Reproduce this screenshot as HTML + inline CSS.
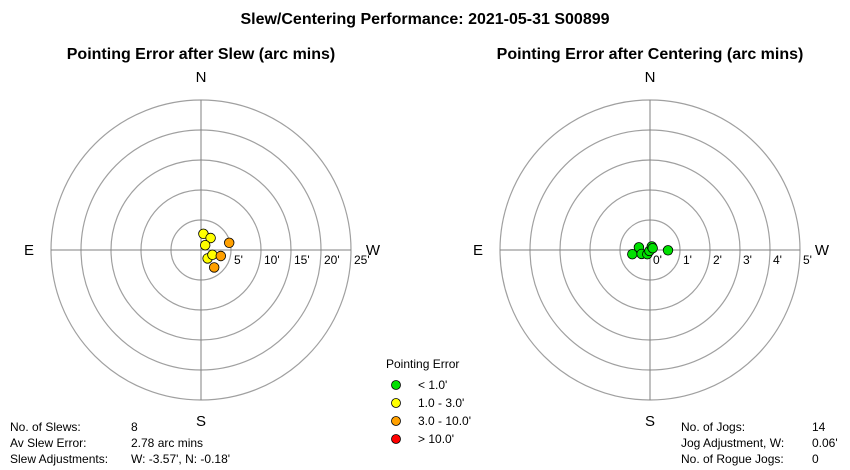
<!DOCTYPE html>
<html><head><meta charset="utf-8">
<style>
body{margin:0;background:#fff;font-family:"Liberation Sans",Arial,sans-serif;}
svg{display:block}
</style></head>
<body>
<svg id="chart" width="850" height="470" viewBox="0 0 850 470" xmlns="http://www.w3.org/2000/svg" font-family="Liberation Sans, Arial, sans-serif">
<rect width="850" height="470" fill="#fff"/>
<text x="425" y="24" text-anchor="middle" font-size="16" font-weight="bold">Slew/Centering Performance: 2021-05-31 S00899</text>
<text x="201" y="59" text-anchor="middle" font-size="16" font-weight="bold">Pointing Error after Slew (arc mins)</text>
<text x="650" y="59" text-anchor="middle" font-size="16" font-weight="bold">Pointing Error after Centering (arc mins)</text>
<g id="left"></g><g id="right"></g>
<g>
<text x="386" y="368" font-size="12">Pointing Error</text>
<g id="legend"></g>
</g>
<g font-size="12">
<text x="10" y="431">No. of Slews:</text><text x="131" y="431">8</text>
<text x="10" y="447">Av Slew Error:</text><text x="131" y="447">2.78 arc mins</text>
<text x="10" y="463">Slew Adjustments:</text><text x="131" y="463">W: -3.57', N: -0.18'</text>
</g>
<g font-size="12">
<text x="681" y="431">No. of Jogs:</text><text x="812" y="431">14</text>
<text x="681" y="447">Jog Adjustment, W:</text><text x="812" y="447">0.06'</text>
<text x="681" y="463">No. of Rogue Jogs:</text><text x="812" y="463">0</text>
</g>
</svg>
<script>
const slewW=[0.4,1.6,0.7,4.7,1.1,1.9,3.3,2.2];
const slewN=[2.7,2.0,0.8,1.2,-1.4,-0.8,-1.0,-2.9];
const jogW=[-0.59,-0.37,-0.28,-0.09,-0.02,0.06,0.09,0.6];
const jogN=[-0.14,0.09,-0.13,-0.14,-0.03,0.12,0.06,-0.01];
const leftTicks=["5'","10'","15'","20'","25'"];
const rightTicks=["0'","1'","2'","3'","4'","5'"];
const legendLabels=["< 1.0'","1.0 - 3.0'","3.0 - 10.0'","> 10.0'"];
const legendColors=["#00e000","#ffff00","#ffa000","#ff0000"];
const NS="http://www.w3.org/2000/svg";
function mk(tag,attrs,parent){const e=document.createElementNS(NS,tag);for(const k in attrs)e.setAttribute(k,attrs[k]);parent.appendChild(e);return e;}
function colorFor(err){return err<1?legendColors[0]:err<3?legendColors[1]:err<10?legendColors[2]:legendColors[3];}
function polar(g,cx,cy,perUnit,ticks,tickStartIdx,ws,ns,name){
  for(let i=1;i<=5;i++){const c=mk('circle',{cx:cx,cy:cy,r:i*30,fill:'none',stroke:'#a0a0a0','stroke-width':1.2},g);
    
    }
  const l1=mk('line',{x1:cx-150,y1:cy,x2:cx+150,y2:cy,stroke:'#808080'},g);
  
  
  const l2=mk('line',{x1:cx,y1:cy-150,x2:cx,y2:cy+150,stroke:'#808080'},g);
  
  
  [['N',cx,cy-168],['S',cx,cy+176],['E',cx-172,cy+5],['W',cx+172,cy+5]].forEach(d=>{
    const t=mk('text',{x:d[1],y:d[2],'text-anchor':'middle','font-size':15},g);t.textContent=d[0];
    
    });
  ticks.forEach((lab,i)=>{const t=mk('text',{x:cx+(i+tickStartIdx)*30+3,y:cy+14,'font-size':12},g);t.textContent=lab;
    
    });
  ws.forEach((w,i)=>{const n=ns[i];const err=Math.sqrt(w*w+n*n);
    const c=mk('circle',{cx:cx+w*perUnit,cy:cy-n*perUnit,r:4.8,fill:colorFor(err),stroke:'#000','stroke-width':0.8},g);
    
    });
}
polar(document.getElementById('left'),201,250,6,leftTicks,1,slewW,slewN,'slew');
polar(document.getElementById('right'),650,250,30,rightTicks,0,jogW,jogN,'jog');
const lg=document.getElementById('legend');
legendLabels.forEach((lab,i)=>{const y=385+i*18;
  const c=mk('circle',{cx:396,cy:y,r:4.5,fill:legendColors[i],stroke:'#000','stroke-width':0.8},lg);
  
  
  const t=mk('text',{x:418,y:y+4,'font-size':12},lg);t.textContent=lab;
  
  });
</script>
</body></html>
